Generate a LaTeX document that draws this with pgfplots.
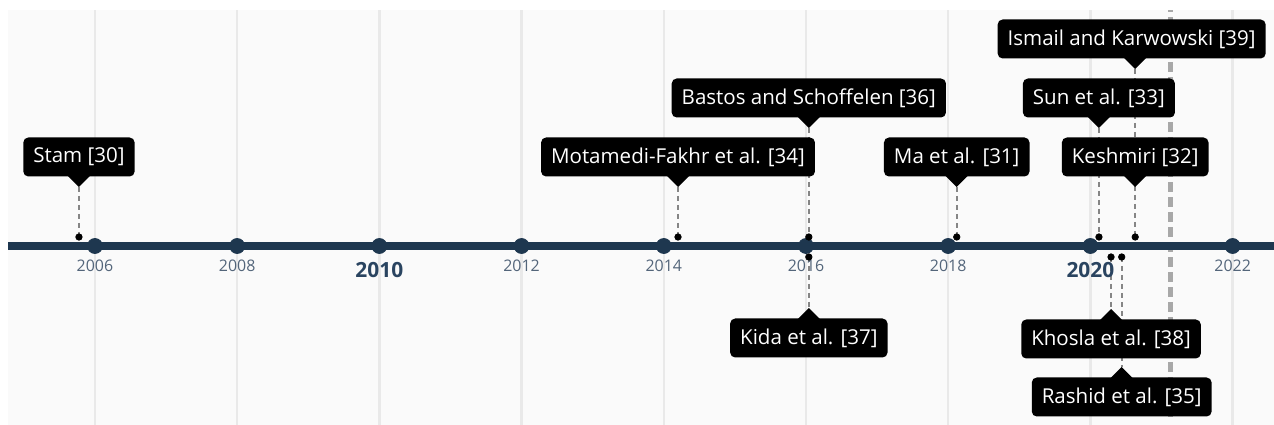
\documentclass[border=0pt]{standalone}
\usepackage{fontspec}
\setmainfont{Open Sans}
\usepackage{pgfplots}
\pgfplotsset{compat=1.18}
\usetikzlibrary{calc}
\definecolor{panel}{HTML}{FAFAFA}
\definecolor{gridc}{HTML}{E9E9E9}
\definecolor{navy}{HTML}{1E374F}
\definecolor{ticksm}{HTML}{53657A}
\definecolor{tickbd}{HTML}{2A4460}
\definecolor{dashc}{HTML}{858585}
\definecolor{todayc}{HTML}{A8A8A8}
\tikzset{
  box/.style={fill=black, text=white, rounded corners=2.5bp,
    inner xsep=5bp, inner ysep=0pt, minimum height=19.5bp,
    font=\fontsize{10.3}{12}\selectfont},
  tsm/.style={text=ticksm, font=\fontsize{8}{9}\selectfont, inner sep=0pt},
  tbd/.style={text=tickbd, font=\bfseries\fontsize{10.5}{12}\selectfont, inner sep=0pt},
}
\begin{document}
\begin{tikzpicture}
\begin{axis}[
  scale only axis, width=633bp, height=207.5bp,
  xmin=2004.777, xmax=2022.582, ymin=0, ymax=415,
  hide axis,
  clip=false,
]
% panel
\fill[panel] (axis cs:2004.777,0) rectangle (axis cs:2022.582,415);
% grid lines
\addplot[gridc, line width=1.2bp] coordinates {(2006,0) (2006,415)};
\addplot[gridc, line width=1.2bp] coordinates {(2008,0) (2008,415)};
\addplot[gridc, line width=1.2bp] coordinates {(2010,0) (2010,415)};
\addplot[gridc, line width=1.2bp] coordinates {(2012,0) (2012,415)};
\addplot[gridc, line width=1.2bp] coordinates {(2014,0) (2014,415)};
\addplot[gridc, line width=1.2bp] coordinates {(2016,0) (2016,415)};
\addplot[gridc, line width=1.2bp] coordinates {(2018,0) (2018,415)};
\addplot[gridc, line width=1.2bp] coordinates {(2020,0) (2020,415)};
\addplot[gridc, line width=1.2bp] coordinates {(2022,0) (2022,415)};
% "today" line
\addplot[todayc, line width=2.5bp, dash pattern=on 5bp off 2.5bp] coordinates {(2021.13,8) (2021.13,415)};
% timeline
\addplot[navy, line width=4bp] coordinates {(2004.777,179) (2022.582,179)};
\addplot[only marks, mark=*, mark size=3.75bp, navy] coordinates {
 (2006,179) (2008,179) (2010,179) (2012,179) (2014,179) (2016,179) (2018,179) (2020,179) (2022,179)};
% event stems (above)
\addplot[dashc, line width=1bp, dash pattern=on 2.5bp off 2bp] coordinates {(2005.775,238) (2005.775,188)};
\addplot[dashc, line width=1bp, dash pattern=on 2.5bp off 2bp] coordinates {(2014.20,238) (2014.20,188)};
\addplot[dashc, line width=1bp, dash pattern=on 2.5bp off 2bp] coordinates {(2016.04,297) (2016.04,188)};
\addplot[dashc, line width=1bp, dash pattern=on 2.5bp off 2bp] coordinates {(2018.12,238) (2018.12,188)};
\addplot[dashc, line width=1bp, dash pattern=on 2.5bp off 2bp] coordinates {(2020.12,297) (2020.12,188)};
\addplot[dashc, line width=1bp, dash pattern=on 2.5bp off 2bp] coordinates {(2020.63,356) (2020.63,188)};
% event stems (below)
\addplot[dashc, line width=1bp, dash pattern=on 2.5bp off 2bp] coordinates {(2016.04,168) (2016.04,117)};
\addplot[dashc, line width=1bp, dash pattern=on 2.5bp off 2bp] coordinates {(2020.29,168) (2020.29,116)};
\addplot[dashc, line width=1bp, dash pattern=on 2.5bp off 2bp] coordinates {(2020.44,168) (2020.44,58)};
% event dots
\addplot[only marks, mark=*, mark size=1.6bp, black] coordinates {
 (2005.775,188) (2014.20,188) (2016.04,188) (2018.12,188) (2020.12,188) (2020.63,188)
 (2016.04,168) (2020.29,168) (2020.44,168)};
% tick labels
\node[tsm] at (axis cs:2006,159.5) {2006};
\node[tsm] at (axis cs:2008,159.5) {2008};
\node[tbd] at (axis cs:2010,155) {2010};
\node[tsm] at (axis cs:2012,159.5) {2012};
\node[tsm] at (axis cs:2014,159.5) {2014};
\node[tsm] at (axis cs:2016,159.5) {2016};
\node[tsm] at (axis cs:2018,159.5) {2018};
\node[tbd] at (axis cs:2020,155) {2020};
\node[tsm] at (axis cs:2022,159.5) {2022};
% event labels (above) with pointers
\node[box] (a) at (axis cs:2005.775,268) {Stam [30]};
\fill[black] (axis cs:2005.775,238) ++(-6.5bp,6.5bp) -- ++(6.5bp,-6.5bp) -- ++(6.5bp,6.5bp) -- cycle;
\node[box] (b) at (axis cs:2014.20,268) {Motamedi-Fakhr et al. [34]};
\fill[black] (axis cs:2014.20,238) ++(-6.5bp,6.5bp) -- ++(6.5bp,-6.5bp) -- ++(6.5bp,6.5bp) -- cycle;
\node[box] (c) at (axis cs:2016.04,327) {Bastos and Schoffelen [36]};
\fill[black] (axis cs:2016.04,297) ++(-6.5bp,6.5bp) -- ++(6.5bp,-6.5bp) -- ++(6.5bp,6.5bp) -- cycle;
\node[box] (d) at (axis cs:2018.12,268) {Ma et al. [31]};
\fill[black] (axis cs:2018.12,238) ++(-6.5bp,6.5bp) -- ++(6.5bp,-6.5bp) -- ++(6.5bp,6.5bp) -- cycle;
\node[box] (e) at (axis cs:2020.58,386) {Ismail and Karwowski [39]};
\fill[black] (axis cs:2020.63,356) ++(-6.5bp,6.5bp) -- ++(6.5bp,-6.5bp) -- ++(6.5bp,6.5bp) -- cycle;
\node[box] (f) at (axis cs:2020.12,327) {Sun et al. [33]};
\fill[black] (axis cs:2020.12,297) ++(-6.5bp,6.5bp) -- ++(6.5bp,-6.5bp) -- ++(6.5bp,6.5bp) -- cycle;
\node[box] (g) at (axis cs:2020.63,268) {Keshmiri [32]};
\fill[black] (axis cs:2020.63,238) ++(-6.5bp,6.5bp) -- ++(6.5bp,-6.5bp) -- ++(6.5bp,6.5bp) -- cycle;
% event labels (below) with pointers
\node[box] (h) at (axis cs:2016.04,87) {Kida et al. [37]};
\fill[black] (axis cs:2016.04,117) ++(-6.5bp,-6.5bp) -- ++(6.5bp,6.5bp) -- ++(6.5bp,-6.5bp) -- cycle;
\node[box] (i) at (axis cs:2020.29,86) {Khosla et al. [38]};
\fill[black] (axis cs:2020.29,116) ++(-6.5bp,-6.5bp) -- ++(6.5bp,6.5bp) -- ++(6.5bp,-6.5bp) -- cycle;
\node[box] (j) at (axis cs:2020.44,28) {Rashid et al. [35]};
\fill[black] (axis cs:2020.44,58) ++(-6.5bp,-6.5bp) -- ++(6.5bp,6.5bp) -- ++(6.5bp,-6.5bp) -- cycle;
\end{axis}
\pgfresetboundingbox
\path[use as bounding box] ($(current axis.south west)+(-4bp,0)$) rectangle ($(current axis.north east)+(0,5bp)$);
\end{tikzpicture}
\end{document}
